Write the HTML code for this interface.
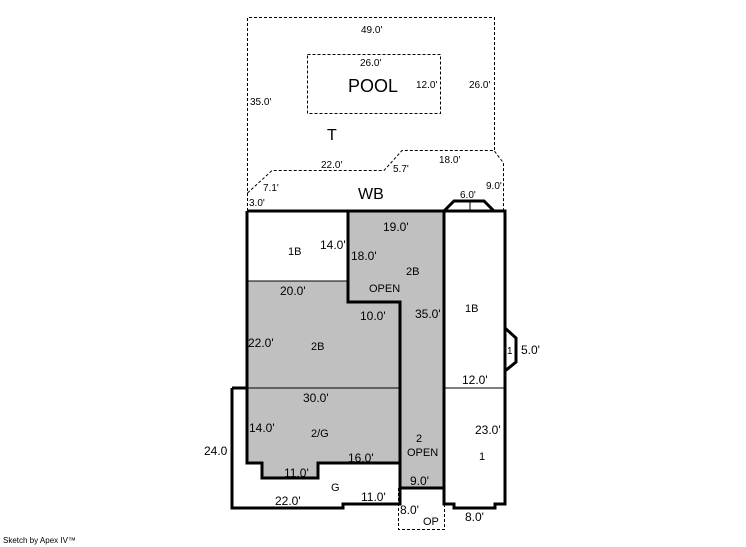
<!DOCTYPE html>
<html><head><style>
html,body{margin:0;padding:0;background:#fff;}
svg{display:block;font-family:"Liberation Sans",Arial,sans-serif;}
</style></head><body>
<svg width="746" height="547" viewBox="0 0 746 547">
<rect width="746" height="547" fill="#fff"/>
<g fill="none" stroke="#000" stroke-width="1" stroke-dasharray="3,2">
<path d="M247.5,211 V17.5 H494.5 V150.5"/>
<rect x="307.5" y="54.5" width="133" height="59"/>
<path d="M247.5,193 L272,170.5 H384 L402,150.5 H494 L503.5,163 V211"/>
<path d="M398.5,488 V529.5 H444.5 V488"/>
</g>
<path d="M348,211 H444 V488 H400 V463 H318 V478 H262 V463 H247 V281 H348 Z" fill="#c0c0c0"/>
<g fill="none" stroke="#000" stroke-width="3">
<path d="M247,211 H505 V504 H495 V508 H454 V504 H444 V211"/>
<path d="M247,211 V463 H262 V478 H318 V463 H400"/>
<path d="M348,211 V302 H400 V488 H444"/>
<path d="M232,388 H247 M232,388 V508 H343 V504 H400 V488"/>
<path d="M444,211 L454,201 H484 L494,211"/>
<path d="M505,328 L516,338 V362 L505,371"/>
</g>
<g stroke="#000" stroke-width="1">
<line x1="247" y1="281" x2="348" y2="281"/>
<line x1="247" y1="388" x2="400" y2="388"/>
<line x1="444" y1="388" x2="505" y2="388"/>
<line x1="470" y1="201" x2="470" y2="211"/>
</g>
<g font-size="10" fill="#000">
<text x="361" y="33">49.0'</text>
<text x="360" y="66">26.0'</text>
<text x="416" y="88">12.0'</text>
<text x="469" y="88">26.0'</text>
<text x="250" y="105">35.0'</text>
<text x="321" y="168">22.0'</text>
<text x="393" y="172">5.7'</text>
<text x="439" y="163">18.0'</text>
<text x="263" y="191">7.1'</text>
<text x="486" y="189">9.0'</text>
<text x="249" y="206">3.0'</text>
<text x="460" y="198">6.0'</text>
<text x="507" y="354">1</text>
</g>
<g font-size="12" fill="#000">
<text x="320" y="249">14.0'</text>
<text x="383" y="231">19.0'</text>
<text x="351" y="260">18.0'</text>
<text x="280" y="295">20.0'</text>
<text x="360" y="320">10.0'</text>
<text x="415" y="318">35.0'</text>
<text x="248" y="347">22.0'</text>
<text x="521" y="354">5.0'</text>
<text x="462" y="384">12.0'</text>
<text x="303" y="402">30.0'</text>
<text x="249" y="432">14.0'</text>
<text x="475" y="434">23.0'</text>
<text x="204" y="455">24.0</text>
<text x="348" y="462">16.0'</text>
<text x="284" y="477">11.0'</text>
<text x="410" y="485">9.0'</text>
<text x="361" y="501">11.0'</text>
<text x="275" y="505">22.0'</text>
<text x="400" y="514">8.0'</text>
<text x="465" y="521">8.0'</text>
</g>
<g font-size="11" fill="#000">
<text x="288" y="255">1B</text>
<text x="406" y="275">2B</text>
<text x="369" y="292">OPEN</text>
<text x="465" y="312">1B</text>
<text x="311" y="350">2B</text>
<text x="311" y="437">2/G</text>
<text x="416" y="442">2</text>
<text x="407" y="456">OPEN</text>
<text x="479" y="460">1</text>
<text x="331" y="491">G</text>
<text x="423" y="525">OP</text>
</g>
<text x="348" y="92" font-size="18">POOL</text>
<text x="327" y="140" font-size="16">T</text>
<text x="358" y="199" font-size="16">WB</text>
<text x="3" y="543" font-size="8">Sketch by Apex IV™</text>
</svg>
</body></html>
